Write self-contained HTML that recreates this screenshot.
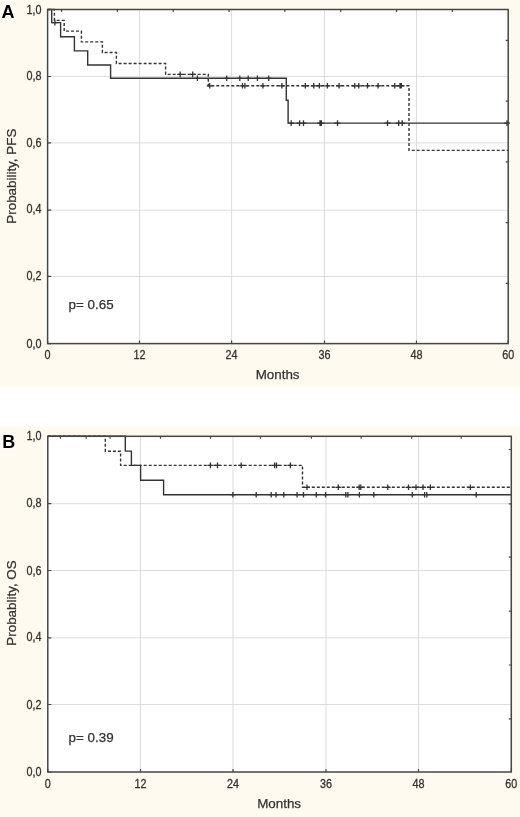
<!DOCTYPE html>
<html><head><meta charset="utf-8"><title>Kaplan-Meier curves</title>
<style>
html,body{margin:0;padding:0;background:#fff;}
body{width:520px;height:817px;overflow:hidden;}
svg{display:block;will-change:transform;}
text{font-family:"Liberation Sans",sans-serif;fill:#333333;}
.tl{font-size:12px;stroke:#333333;stroke-width:0.3px;}
.al{font-size:13.4px;stroke:#333333;stroke-width:0.25px;}
.pl{font-size:18px;font-weight:bold;fill:#000;}
</style></head><body>
<svg width="520" height="817" viewBox="0 0 520 817">
<rect x="0" y="0" width="520" height="387.5" fill="#fefaef"/>
<rect x="0" y="426.5" width="520" height="390.5" fill="#fefaef"/>
<rect x="0" y="0" width="16" height="23" fill="#fff" opacity="0.35"/>
<rect x="0" y="430" width="16" height="21" fill="#fff" opacity="0.35"/>
<rect x="44" y="9" width="4" height="335" fill="#fff" opacity="0.6"/>
<rect x="44" y="436" width="4" height="336" fill="#fff" opacity="0.6"/>
<rect x="47.6" y="9.5" width="460.60" height="334.10" fill="#fff"/>
<path d="M139.5 9.5V343.6M231.6 9.5V343.6M324.5 9.5V343.6M416.5 9.5V343.6M47.6 276.4H508.2M47.6 210.2H508.2M47.6 142.9H508.2M47.6 76.5H508.2" stroke="#dddddd" stroke-width="1" fill="none"/>
<path d="M47.60 343.6V340.6M139.50 343.6V340.6M231.60 343.6V340.6M324.50 343.6V340.6M416.50 343.6V340.6M508.20 343.6V340.6M47.6 343.60H51.1M47.6 276.40H51.1M47.6 210.20H51.1M47.6 142.90H51.1M47.6 76.50H51.1M47.6 9.50H51.1M452.37 9.5V12.0M396.54 9.5V12.0M340.71 9.5V12.0M284.88 9.5V12.0M229.05 9.5V12.0M173.22 9.5V12.0M117.39 9.5V12.0M61.56 9.5V12.0M508.2 40.30H505.7M508.2 101.05H505.7M508.2 161.80H505.7M508.2 222.55H505.7M508.2 283.30H505.7" stroke="#454743" stroke-width="1.2" fill="none"/>
<path d="M47.6 9.5H51.7V22.6H60.6V36.7H74.4V50.9H87.7V65H110.6V78.3H286.3V100.2H288.1V123.1H508.2" stroke="#333333" stroke-width="1.4" fill="none"/>
<path d="M47.6 9.5H54.4V20.4H64.2V31.1H81.4V41.9H102.4V52.5H116.4V63.5H165.6V74.4H208.3V85.8H409V150.4H508.2" stroke="#333333" stroke-width="1.4" fill="none" stroke-dasharray="3 2"/>
<path d="M51.90 22.60H57.90M54.90 19.80V25.40" stroke="#333333" stroke-width="1.3" fill="none"/>
<path d="M194.40 78.30H200.40M197.40 75.50V81.10M223.70 78.30H229.70M226.70 75.50V81.10M236.80 78.30H242.80M239.80 75.50V81.10M245.20 78.30H251.20M248.20 75.50V81.10M254.40 78.30H260.40M257.40 75.50V81.10M265.70 78.30H271.70M268.70 75.50V81.10" stroke="#333333" stroke-width="1.3" fill="none"/>
<path d="M288.20 123.10H294.20M291.20 120.30V125.90M296.60 123.10H302.60M299.60 120.30V125.90M300.50 123.10H306.50M303.50 120.30V125.90M317.00 123.10H323.00M320.00 120.30V125.90M318.30 123.10H324.30M321.30 120.30V125.90M334.50 123.10H340.50M337.50 120.30V125.90M384.50 123.10H390.50M387.50 120.30V125.90M395.70 123.10H401.70M398.70 120.30V125.90M399.20 123.10H405.20M402.20 120.30V125.90M504.00 123.10H510.00M507.00 120.30V125.90" stroke="#333333" stroke-width="1.3" fill="none"/>
<path d="M177.20 74.40H183.20M180.20 71.60V77.20M189.70 74.40H195.70M192.70 71.60V77.20" stroke="#333333" stroke-width="1.3" fill="none"/>
<path d="M206.70 85.80H212.70M209.70 83.00V88.60M239.50 85.80H245.50M242.50 83.00V88.60M241.90 85.80H247.90M244.90 83.00V88.60M259.90 85.80H265.90M262.90 83.00V88.60M278.90 85.80H284.90M281.90 83.00V88.60M302.30 85.80H308.30M305.30 83.00V88.60M310.75 85.80H316.75M313.75 83.00V88.60M316.40 85.80H322.40M319.40 83.00V88.60M324.40 85.80H330.40M327.40 83.00V88.60M336.10 85.80H342.10M339.10 83.00V88.60M351.75 85.80H357.75M354.75 83.00V88.60M355.75 85.80H361.75M358.75 83.00V88.60M364.50 85.80H370.50M367.50 83.00V88.60M375.10 85.80H381.10M378.10 83.00V88.60M391.75 85.80H397.75M394.75 83.00V88.60M397.00 85.80H403.00M400.00 83.00V88.60M398.30 85.80H404.30M401.30 83.00V88.60" stroke="#333333" stroke-width="1.3" fill="none"/>
<rect x="47.6" y="9.5" width="460.60" height="334.10" fill="none" stroke="#454743" stroke-width="1.5"/>
<text transform="translate(41.6 347.70) scale(0.9 1)" text-anchor="end" class="tl">0,0</text>
<text transform="translate(41.6 280.40) scale(0.9 1)" text-anchor="end" class="tl">0,2</text>
<text transform="translate(41.6 213.10) scale(0.9 1)" text-anchor="end" class="tl">0,4</text>
<text transform="translate(41.6 146.60) scale(0.9 1)" text-anchor="end" class="tl">0,6</text>
<text transform="translate(41.6 79.80) scale(0.9 1)" text-anchor="end" class="tl">0,8</text>
<text transform="translate(41.6 13.70) scale(0.9 1)" text-anchor="end" class="tl">1,0</text>
<text transform="translate(47.60 359.20) scale(0.9 1)" text-anchor="middle" class="tl">0</text>
<text transform="translate(139.50 359.20) scale(0.9 1)" text-anchor="middle" class="tl">12</text>
<text transform="translate(231.60 359.20) scale(0.9 1)" text-anchor="middle" class="tl">24</text>
<text transform="translate(324.50 359.20) scale(0.9 1)" text-anchor="middle" class="tl">36</text>
<text transform="translate(416.50 359.20) scale(0.9 1)" text-anchor="middle" class="tl">48</text>
<text transform="translate(508.20 359.20) scale(0.9 1)" text-anchor="middle" class="tl">60</text>
<text x="277.6" y="378.9" text-anchor="middle" class="al">Months</text>
<text transform="translate(16.2 176.2) rotate(-90)" text-anchor="middle" class="al">Probability, PFS</text>
<text x="68.6" y="308.9" class="al">p= 0.65</text>
<rect x="47.8" y="436.3" width="463.50" height="335.70" fill="#fff"/>
<path d="M140.5 436.3V772.0M233.0 436.3V772.0M326.0 436.3V772.0M418.5 436.3V772.0M47.8 704.5H511.3M47.8 637.8H511.3M47.8 570.5H511.3M47.8 503.7H511.3" stroke="#dddddd" stroke-width="1" fill="none"/>
<path d="M47.80 772.0V769.0M140.50 772.0V769.0M233.00 772.0V769.0M326.00 772.0V769.0M418.50 772.0V769.0M511.30 772.0V769.0M47.8 772.00H51.3M47.8 704.50H51.3M47.8 637.80H51.3M47.8 570.50H51.3M47.8 503.70H51.3M47.8 436.30H51.3M60.50 436.3V438.8M86.20 436.3V438.8M110.10 436.3V438.8M160.50 436.3V438.8M210.50 436.3V438.8M260.50 436.3V438.8M311.40 436.3V438.8M361.20 436.3V438.8M411.60 436.3V438.8M461.20 436.3V438.8M511.3 449.50H508.8M511.3 503.80H508.8M511.3 557.20H508.8M511.3 611.10H508.8M511.3 665.00H508.8M511.3 718.80H508.8" stroke="#454743" stroke-width="1.2" fill="none"/>
<path d="M47.8 436.3H125.3V451.1H131.4V465.4H140.6V480.3H163.6V494.7H511.3" stroke="#333333" stroke-width="1.4" fill="none"/>
<path d="M47.8 436.3H105.3V451.2H120.6V465.4H302.5V487.3H511.3" stroke="#333333" stroke-width="1.4" fill="none" stroke-dasharray="3 2"/>
<path d="M229.90 494.70H235.90M232.90 491.90V497.50M253.20 494.70H259.20M256.20 491.90V497.50M268.20 494.70H274.20M271.20 491.90V497.50M273.00 494.70H279.00M276.00 491.90V497.50M280.80 494.70H286.80M283.80 491.90V497.50M294.10 494.70H300.10M297.10 491.90V497.50M300.50 494.70H306.50M303.50 491.90V497.50M313.30 494.70H319.30M316.30 491.90V497.50M322.60 494.70H328.60M325.60 491.90V497.50M342.80 494.70H348.80M345.80 491.90V497.50M344.90 494.70H350.90M347.90 491.90V497.50M356.40 494.70H362.40M359.40 491.90V497.50M370.80 494.70H376.80M373.80 491.90V497.50M409.30 494.70H415.30M412.30 491.90V497.50M421.60 494.70H427.60M424.60 491.90V497.50M423.80 494.70H429.80M426.80 491.90V497.50M473.20 494.70H479.20M476.20 491.90V497.50" stroke="#333333" stroke-width="1.3" fill="none"/>
<path d="M207.40 465.40H213.40M210.40 462.60V468.20M214.50 465.40H220.50M217.50 462.60V468.20M238.20 465.40H244.20M241.20 462.60V468.20M271.60 465.40H277.60M274.60 462.60V468.20M273.50 465.40H279.50M276.50 462.60V468.20M287.40 465.40H293.40M290.40 462.60V468.20" stroke="#333333" stroke-width="1.3" fill="none"/>
<path d="M304.00 487.30H310.00M307.00 484.50V490.10M335.30 487.30H341.30M338.30 484.50V490.10M356.20 487.30H362.20M359.20 484.50V490.10M357.80 487.30H363.80M360.80 484.50V490.10M384.70 487.30H390.70M387.70 484.50V490.10M405.50 487.30H411.50M408.50 484.50V490.10M413.00 487.30H419.00M416.00 484.50V490.10M420.00 487.30H426.00M423.00 484.50V490.10M427.40 487.30H433.40M430.40 484.50V490.10M467.40 487.30H473.40M470.40 484.50V490.10" stroke="#333333" stroke-width="1.3" fill="none"/>
<rect x="47.8" y="436.3" width="463.50" height="335.70" fill="none" stroke="#454743" stroke-width="1.5"/>
<text transform="translate(41.6 775.90) scale(0.9 1)" text-anchor="end" class="tl">0,0</text>
<text transform="translate(41.6 708.60) scale(0.9 1)" text-anchor="end" class="tl">0,2</text>
<text transform="translate(41.6 640.90) scale(0.9 1)" text-anchor="end" class="tl">0,4</text>
<text transform="translate(41.6 574.60) scale(0.9 1)" text-anchor="end" class="tl">0,6</text>
<text transform="translate(41.6 506.60) scale(0.9 1)" text-anchor="end" class="tl">0,8</text>
<text transform="translate(41.6 439.90) scale(0.9 1)" text-anchor="end" class="tl">1,0</text>
<text transform="translate(47.80 787.60) scale(0.9 1)" text-anchor="middle" class="tl">0</text>
<text transform="translate(140.50 787.60) scale(0.9 1)" text-anchor="middle" class="tl">12</text>
<text transform="translate(233.00 787.60) scale(0.9 1)" text-anchor="middle" class="tl">24</text>
<text transform="translate(326.00 787.60) scale(0.9 1)" text-anchor="middle" class="tl">36</text>
<text transform="translate(418.50 787.60) scale(0.9 1)" text-anchor="middle" class="tl">48</text>
<text transform="translate(511.30 787.60) scale(0.9 1)" text-anchor="middle" class="tl">60</text>
<text x="279.1" y="807.6" text-anchor="middle" class="al">Months</text>
<text transform="translate(16.2 603.0) rotate(-90)" text-anchor="middle" class="al">Probablity, OS</text>
<text x="68.6" y="742.2" class="al">p= 0.39</text>
<text x="1.5" y="17.9" class="pl">A</text>
<text x="2.2" y="447.8" class="pl">B</text>
</svg>
</body></html>
